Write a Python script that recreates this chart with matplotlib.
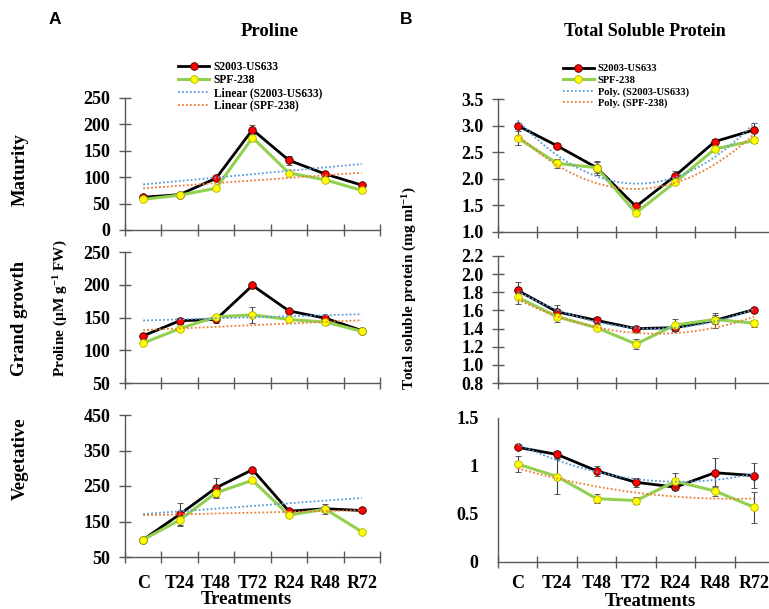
import matplotlib
matplotlib.use("Agg")
import matplotlib.pyplot as plt
import numpy as np
from matplotlib.ticker import FuncFormatter
from matplotlib.lines import Line2D

plt.rcParams['font.family'] = ['Liberation Serif', 'DejaVu Serif']
plt.rcParams['font.weight'] = 'bold'
plt.rcParams['mathtext.fontset'] = 'custom'
plt.rcParams['mathtext.rm'] = 'Liberation Serif:bold'
plt.rcParams['mathtext.default'] = 'rm'

cats = ['C', 'T24', 'T48', 'T72', 'R24', 'R48', 'R72']

# Proline (uM g-1 FW)
pro_mat_s = [62, 67, 98, 190, 132, 106, 85]
pro_mat_s_err = [3, 3, 4, 8, 8, 4, 3]
pro_mat_p = [58, 66, 79, 175, 108, 95, 75]
pro_mat_p_err = [3, 3, 4, 6, 4, 4, 4]

pro_gg_s = [122, 145, 147, 199, 160, 149, 130]
pro_gg_s_err = [4, 5, 5, 4, 3, 4, 2]
pro_gg_p = [111, 133, 151, 154, 147, 143, 129]
pro_gg_p_err = [3, 4, 3, 12, 3, 5, 2]

pro_veg_s = [99, 170, 245, 296, 179, 186, 181]
pro_veg_s_err = [2, 33, 27, 4, 5, 14, 3]
pro_veg_p = [99, 154, 231, 266, 168, 185, 121]
pro_veg_p_err = [2, 15, 15, 4, 4, 5, 3]

# Total soluble protein (mg ml-1)
tsp_mat_s = [3.00, 2.62, 2.21, 1.48, 2.06, 2.70, 2.92]
tsp_mat_s_err = [0.05, 0.05, 0.10, 0.04, 0.08, 0.04, 0.13]
tsp_mat_p = [2.77, 2.29, 2.21, 1.36, 1.94, 2.56, 2.72]
tsp_mat_p_err = [0.13, 0.08, 0.13, 0.03, 0.04, 0.04, 0.04]

tsp_gg_s = [1.82, 1.585, 1.49, 1.40, 1.41, 1.49, 1.61]
tsp_gg_s_err = [0.09, 0.08, 0.04, 0.02, 0.04, 0.08, 0.02]
tsp_gg_p = [1.745, 1.53, 1.41, 1.23, 1.44, 1.50, 1.46]
tsp_gg_p_err = [0.07, 0.06, 0.03, 0.06, 0.07, 0.05, 0.04]

tsp_veg_s = [1.195, 1.12, 0.95, 0.83, 0.78, 0.93, 0.90]
tsp_veg_s_err = [0.02, 0.04, 0.05, 0.05, 0.03, 0.15, 0.13]
tsp_veg_p = [1.02, 0.89, 0.66, 0.64, 0.84, 0.74, 0.57]
tsp_veg_p_err = [0.08, 0.18, 0.05, 0.04, 0.09, 0.05, 0.16]

W, H = 769, 609
fig = plt.figure(figsize=(W / 100, H / 100), dpi=100)


def px_axes(x0, y0, x1, y1):
    return fig.add_axes([x0 / W, 1 - y1 / H, (x1 - x0) / W, (y1 - y0) / H])


SPINE = '#595959'
BLUE = '#5B9BD5'
ORANGE = '#ED7D31'
GREEN = '#92D050'
DOT = (0, (1, 1.2))


def panel(ax, s, s_err, p, p_err, ylim, yticks, order, fmt, bottom=False, yticks_on=True, xpad=12):
    x = np.arange(len(cats)) + 0.5
    ax.errorbar(x, s, yerr=s_err, color='black', lw=2.0, marker='o', ms=5.5,
                mfc='#FF0000', mec='#3a0000', mew=0.6, ecolor='#404040',
                elinewidth=0.8, capsize=2, capthick=0.8, zorder=3)
    ax.errorbar(x, p, yerr=p_err, color=GREEN, lw=2.2, marker='o', ms=5.5,
                mfc='#FFFF00', mec='#b0b000', mew=0.6, ecolor='#404040',
                elinewidth=0.8, capsize=2, capthick=0.8, zorder=4)
    # Excel style trendlines (linear / 2nd order poly)
    xf = np.linspace(x[0], x[-1], 100)
    cs = np.polyfit(x, s, order)
    cp = np.polyfit(x, p, order)
    ax.plot(xf, np.polyval(cs, xf), ls=DOT, color=BLUE, lw=1.3, zorder=5)
    ax.plot(xf, np.polyval(cp, xf), ls=DOT, color=ORANGE, lw=1.3, zorder=5)
    ax.set_xlim(0, len(cats))
    ax.set_ylim(*ylim)
    ax.set_yticks(yticks)
    ax.yaxis.set_major_formatter(FuncFormatter(fmt))
    ax.set_xticks(np.arange(len(cats) + 1))
    ax.set_xticklabels([])
    ax.set_xticks(x, minor=True)
    for side in ['top', 'right']:
        ax.spines[side].set_visible(False)
    for side in ['left', 'bottom']:
        ax.spines[side].set_color(SPINE)
        ax.spines[side].set_linewidth(1.0)
    ax.tick_params(axis='x', which='major', direction='inout', length=9, color=SPINE, width=1.0)
    ax.tick_params(axis='x', which='minor', length=0, labelsize=13, pad=xpad)
    ax.tick_params(axis='y', direction='inout', length=9 if yticks_on else 0,
                   color=SPINE, width=1.0, labelsize=13, pad=6)
    if bottom:
        ax.set_xticklabels(cats, minor=True)
    ax.patch.set_alpha(0)
    return ax


f_int = lambda v, _: f'{v:.0f}'
f_1 = lambda v, _: f'{v:.1f}'
f_g = lambda v, _: f'{v:g}'

a1 = panel(px_axes(125, 98, 380, 230), pro_mat_s, pro_mat_s_err, pro_mat_p, pro_mat_p_err,
           (0, 250), [0, 50, 100, 150, 200, 250], 1, f_int)
a2 = panel(px_axes(125, 252, 380, 383), pro_gg_s, pro_gg_s_err, pro_gg_p, pro_gg_p_err,
           (50, 250), [50, 100, 150, 200, 250], 1, f_int)
a3 = panel(px_axes(125, 415, 380, 557), pro_veg_s, pro_veg_s_err, pro_veg_p, pro_veg_p_err,
           (50, 450), [50, 150, 250, 350, 450], 1, f_int, bottom=True, xpad=13)

b1 = panel(px_axes(498, 99, 774, 232), tsp_mat_s, tsp_mat_s_err, tsp_mat_p, tsp_mat_p_err,
           (1.0, 3.5), [1.0, 1.5, 2.0, 2.5, 3.0, 3.5], 2, f_1)
b2 = panel(px_axes(498, 256, 774, 383), tsp_gg_s, tsp_gg_s_err, tsp_gg_p, tsp_gg_p_err,
           (0.8, 2.2), [0.8, 1.0, 1.2, 1.4, 1.6, 1.8, 2.0, 2.2], 2, f_1)
b3 = panel(px_axes(498, 418, 774, 562), tsp_veg_s, tsp_veg_s_err, tsp_veg_p, tsp_veg_p_err,
           (0, 1.5), [0, 0.5, 1.0, 1.5], 2, f_g, bottom=True, yticks_on=False, xpad=9)
b3.tick_params(axis='y', pad=14)


def handles():
    return [
        Line2D([], [], color='black', lw=2.0, marker='o', ms=5.5, mfc='#FF0000', mec='#3a0000', mew=0.6),
        Line2D([], [], color=GREEN, lw=2.2, marker='o', ms=5.5, mfc='#FFFF00', mec='#b0b000', mew=0.6),
        Line2D([], [], color=BLUE, lw=1.3, ls=DOT),
        Line2D([], [], color=ORANGE, lw=1.3, ls=DOT),
    ]


fig.legend(handles(), ['S2003-US633', 'SPF-238', 'Linear (S2003-US633)', 'Linear (SPF-238)'],
           loc='upper left', bbox_to_anchor=(178 / W, 1 - 61 / H), frameon=False,
           prop={'family': 'Liberation Serif', 'weight': 'bold', 'size': 8.3},
           handlelength=2.7, handletextpad=0.4, labelspacing=0.08, borderpad=0, borderaxespad=0)
fig.legend(handles(), ['S2003-US633', 'SPF-238', 'Poly. (S2003-US633)', 'Poly. (SPF-238)'],
           loc='upper left', bbox_to_anchor=(563 / W, 1 - 64 / H), frameon=False,
           prop={'family': 'Liberation Serif', 'weight': 'bold', 'size': 7.6},
           handlelength=2.9, handletextpad=0.4, labelspacing=0.2, borderpad=0, borderaxespad=0)

# titles and labels
fig.text(55 / W, 1 - 20 / H, 'A', family='Liberation Sans', weight='bold', size=12.5, ha='center', va='center')
fig.text(406 / W, 1 - 20 / H, 'B', family='Liberation Sans', weight='bold', size=12.5, ha='center', va='center')
fig.text(270 / W, 1 - 31 / H, 'Proline', size=13.5, weight='bold', ha='center', va='center')
fig.text(645 / W, 1 - 32 / H, 'Total Soluble Protein', size=13, weight='bold', ha='center', va='center')

fig.text(20 / W, 1 - 170 / H, 'Maturity', size=13.5, weight='bold', rotation=90, ha='center', va='center')
fig.text(20 / W, 1 - 318 / H, 'Grand growth', size=13.5, weight='bold', rotation=90, ha='center', va='center')
fig.text(20 / W, 1 - 459 / H, 'Vegetative', size=13.5, weight='bold', rotation=90, ha='center', va='center')
fig.text(61 / W, 1 - 308 / H, 'Proline (µM g$^{-1}$ FW)', size=11, weight='bold', rotation=90,
         ha='center', va='center')
fig.text(410 / W, 1 - 288 / H, 'Total soluble protein (mg ml$^{-1}$)', size=11, weight='bold', rotation=90,
         ha='center', va='center')

fig.text(246 / W, 1 - 600 / H, 'Treatments', size=13.5, weight='bold', ha='center', va='center')
fig.text(650 / W, 1 - 601 / H, 'Treatments', size=13.5, weight='bold', ha='center', va='center')

fig.savefig('out.png', dpi=100)
